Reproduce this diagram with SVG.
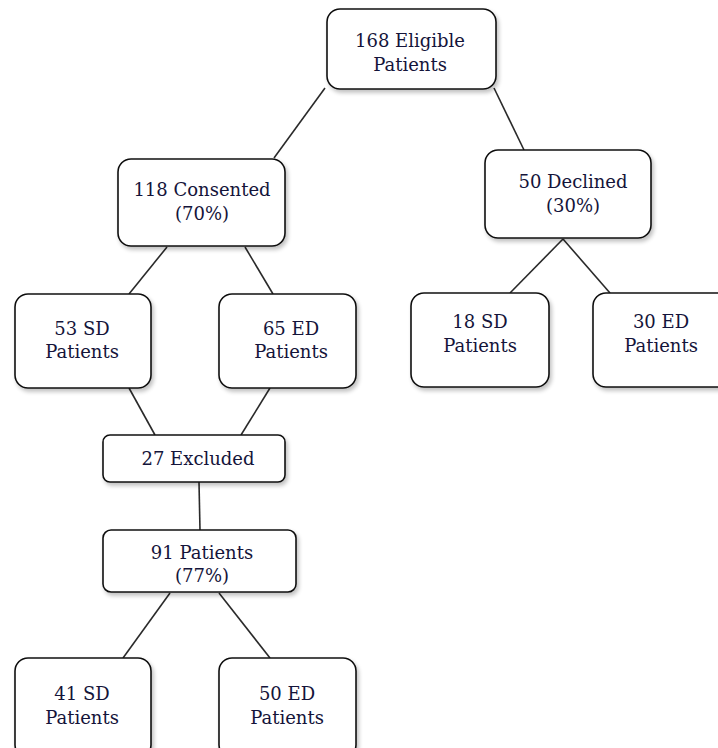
<svg xmlns="http://www.w3.org/2000/svg" width="718" height="748" viewBox="0 0 718 748">
  <defs>
    <filter id="shadow" x="-10%" y="-10%" width="125%" height="130%">
      <feGaussianBlur in="SourceAlpha" stdDeviation="2"/>
      <feOffset dx="2" dy="3" result="b"/>
      <feComponentTransfer><feFuncA type="linear" slope="0.25"/></feComponentTransfer>
      <feMerge><feMergeNode/><feMergeNode in="SourceGraphic"/></feMerge>
    </filter>
  </defs>
  <style>
    .box { fill: #ffffff; stroke: #111111; stroke-width: 1.6; filter: url(#shadow); }
    .lbl { font-family: "DejaVu Serif", "Liberation Serif", serif; font-size: 18px; fill: #14143a; text-anchor: middle; }
    .edge { stroke: #2a2a2a; stroke-width: 1.6; fill: none; }
  </style>
  <rect width="718" height="748" fill="#ffffff"/>

  <g id="connectors">
    <line class="edge" x1="325" y1="88" x2="274" y2="158"/>
    <line class="edge" x1="494" y1="88" x2="524" y2="150"/>
    <line class="edge" x1="167" y1="247" x2="129" y2="294"/>
    <line class="edge" x1="245" y1="247" x2="273" y2="294"/>
    <line class="edge" x1="563" y1="239" x2="510" y2="293"/>
    <line class="edge" x1="563" y1="239" x2="610" y2="293"/>
    <line class="edge" x1="129" y1="388" x2="155" y2="435"/>
    <line class="edge" x1="270" y1="388" x2="241" y2="435"/>
    <line class="edge" x1="199" y1="482" x2="200" y2="530"/>
    <line class="edge" x1="170" y1="593" x2="123" y2="658"/>
    <line class="edge" x1="219" y1="593" x2="270" y2="658"/>
  </g>

  <g id="eligible">
    <rect class="box" x="327" y="9" width="169" height="80" rx="13"/>
    <text class="lbl" x="410" y="47">168 Eligible</text>
    <text class="lbl" x="410" y="71">Patients</text>
  </g>

  <g id="consented">
    <rect class="box" x="118" y="159" width="167" height="87" rx="13"/>
    <text class="lbl" x="202" y="196">118 Consented</text>
    <text class="lbl" x="202" y="220">(70%)</text>
  </g>

  <g id="declined">
    <rect class="box" x="485" y="150" width="166" height="88" rx="13"/>
    <text class="lbl" x="573" y="188">50 Declined</text>
    <text class="lbl" x="573" y="212">(30%)</text>
  </g>

  <g id="sd-53">
    <rect class="box" x="15" y="294" width="136" height="94" rx="13"/>
    <text class="lbl" x="82" y="335">53 SD</text>
    <text class="lbl" x="82" y="358">Patients</text>
  </g>

  <g id="ed-65">
    <rect class="box" x="219" y="294" width="137" height="94" rx="13"/>
    <text class="lbl" x="291" y="335">65 ED</text>
    <text class="lbl" x="291" y="358">Patients</text>
  </g>

  <g id="sd-18">
    <rect class="box" x="411" y="293" width="138" height="94" rx="13"/>
    <text class="lbl" x="480" y="328">18 SD</text>
    <text class="lbl" x="480" y="352">Patients</text>
  </g>

  <g id="ed-30">
    <rect class="box" x="593" y="293" width="138" height="94" rx="13"/>
    <text class="lbl" x="661" y="328">30 ED</text>
    <text class="lbl" x="661" y="352">Patients</text>
  </g>

  <g id="excluded">
    <rect class="box" x="103" y="435" width="182" height="47" rx="7"/>
    <text class="lbl" x="198" y="465">27 Excluded</text>
  </g>

  <g id="patients-91">
    <rect class="box" x="103" y="530" width="193" height="62" rx="8"/>
    <text class="lbl" x="202" y="559">91 Patients</text>
    <text class="lbl" x="202" y="582">(77%)</text>
  </g>

  <g id="sd-41">
    <rect class="box" x="15" y="658" width="136" height="100" rx="13"/>
    <text class="lbl" x="82" y="700">41 SD</text>
    <text class="lbl" x="82" y="724">Patients</text>
  </g>

  <g id="ed-50">
    <rect class="box" x="219" y="658" width="137" height="100" rx="13"/>
    <text class="lbl" x="287" y="700">50 ED</text>
    <text class="lbl" x="287" y="724">Patients</text>
  </g>
</svg>
